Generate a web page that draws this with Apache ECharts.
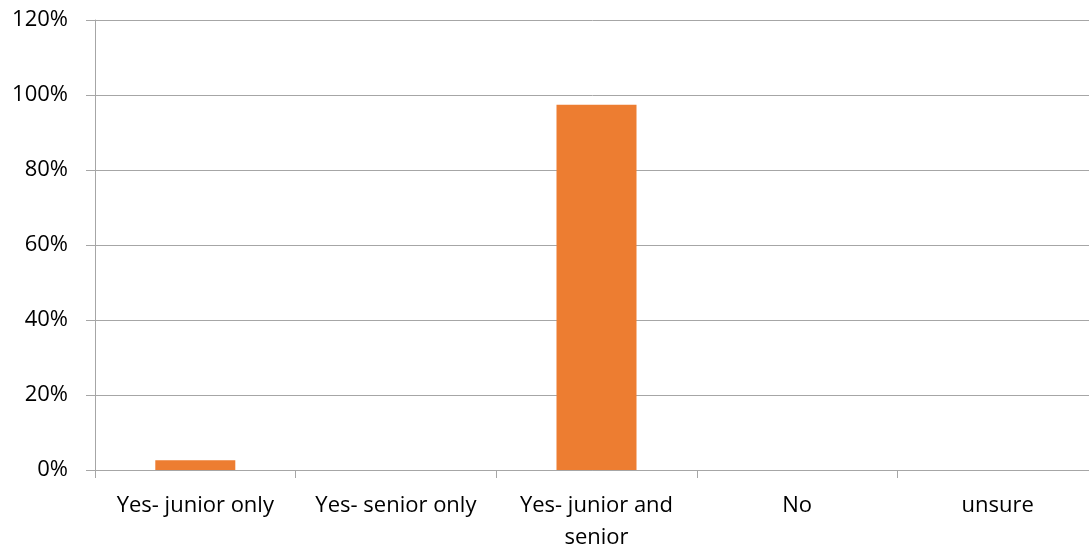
<!DOCTYPE html>
<html>
<head>
<meta charset="utf-8">
<script src="https://cdn.jsdelivr.net/npm/echarts@6/dist/echarts.min.js"></script>
<style>html,body{margin:0;padding:0;background:#fff;}#c{width:1089px;height:549px;}</style>
</head>
<body>
<div id="c"></div>
<script>
const categories = ['Yes- junior only', 'Yes- senior only', 'Yes- junior and senior', 'No', 'unsure'];
const values = [2.6, 0, 97.4, 0, 0];
const yTicks = [0, 20, 40, 60, 80, 100, 120];

const chart = echarts.init(document.getElementById('c'));
chart.setOption({
  animation: false,
  backgroundColor: '#fff',
  grid: { left: 95, top: 20, right: -9, height: 450, containLabel: false, outerBoundsMode: 'none' },
  xAxis: {
    type: 'category',
    data: categories,
    axisLine: { show: true, lineStyle: { color: '#a6a6a6', width: 1 } },
    axisTick: { show: true, length: 8, alignWithLabel: false, lineStyle: { color: '#a6a6a6' } },
    axisLabel: {
      interval: 0,
      margin: 20,
      color: '#000',
      fontFamily: 'Open Sans',
      fontSize: 22,
      lineHeight: 32,
      formatter: v => v.replace(' and senior', ' and\nsenior')
    },
    splitLine: { show: false }
  },
  yAxis: {
    type: 'value',
    min: yTicks[0],
    max: yTicks[yTicks.length - 1],
    interval: 20,
    axisLine: { show: true, lineStyle: { color: '#a6a6a6', width: 1 } },
    axisTick: { show: true, length: 9, lineStyle: { color: '#a6a6a6' } },
    axisLabel: {
      margin: 27,
      color: '#000',
      fontFamily: 'Open Sans',
      fontSize: 22,
      formatter: v => v + '%'
    },
    splitLine: { show: true, lineStyle: { color: '#a6a6a6', width: 1 } }
  },
  series: [{
    type: 'bar',
    data: values,
    barWidth: 80,
    itemStyle: { color: '#ED7D31' }
  }]
});
</script>
</body>
</html>
